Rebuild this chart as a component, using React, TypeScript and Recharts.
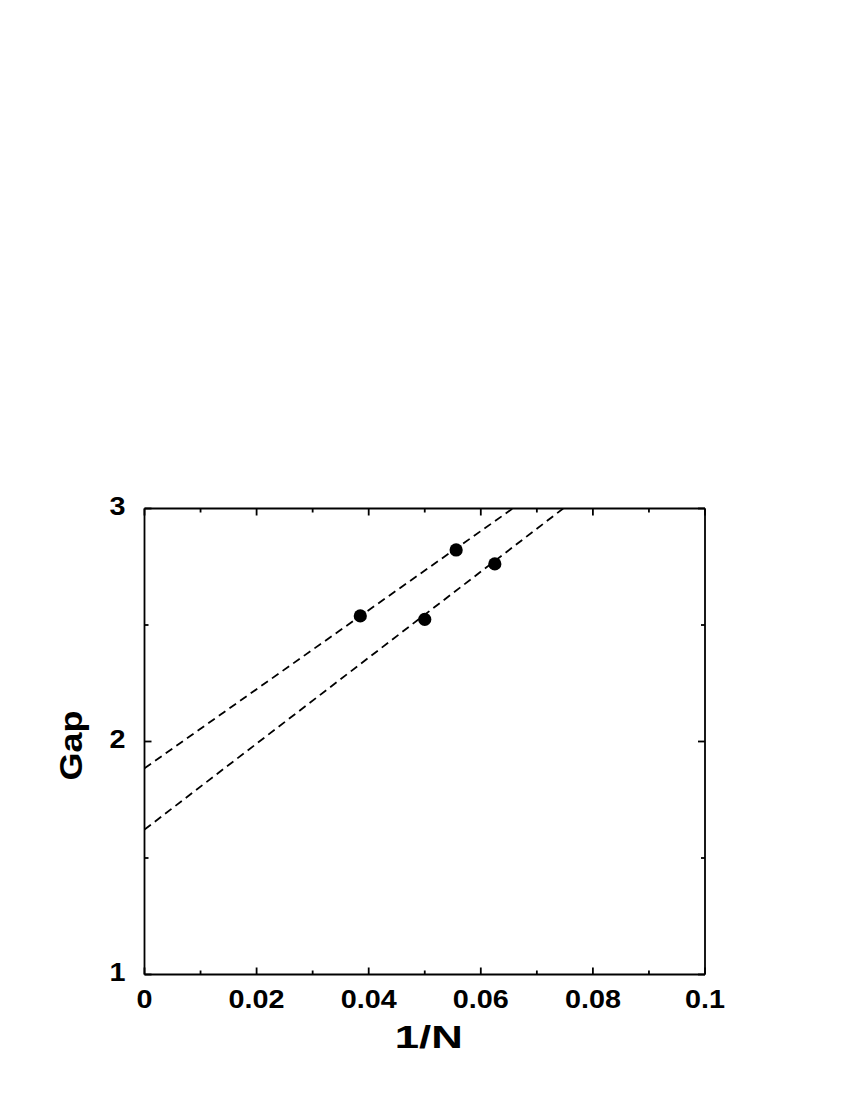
import { ScatterChart, Scatter, XAxis, YAxis } from "recharts";

// measured gaps (1/N vs Gap), two families
const upperInvN = [0.0385, 0.0556];
const upperGap = [2.539, 2.822];
const lowerInvN = [0.05, 0.0625];
const lowerGap = [2.524, 2.762];

// dashed linear extrapolations to 1/N = 0
const upperFitInvN = [0, 0.0657];
const upperFitGap = [1.885, 3];
const lowerFitInvN = [0, 0.0747];
const lowerFitGap = [1.622, 3];

const xTicks = [0, 0.01, 0.02, 0.03, 0.04, 0.05, 0.06, 0.07, 0.08, 0.09, 0.1];
const xMajor = [0, 0.02, 0.04, 0.06, 0.08, 0.1];
const xLabels = ["0", "0.02", "0.04", "0.06", "0.08", "0.1"];
const yTicks = [1, 1.5, 2, 2.5, 3];
const yMajor = [1, 2, 3];
const yLabels = ["1", "2", "3"];

const zip = (xs: number[], ys: number[]) => xs.map((x, i) => ({ x, y: ys[i] }));

const FONT = "'Liberation Sans', Arial, Helvetica, sans-serif";
const MAJOR = 7;
const MINOR = 4;
const LW = 1.8;

const idxOf = (arr: number[], v: number) => arr.findIndex((m) => Math.abs(m - v) < 1e-9);

// labels are a bit wider than plain Helvetica bold, so stretch horizontally
const Stretch = ({ x, y, anchor, children, size = 25, sx = 1.15 }: any) => (
  <text
    x={0}
    y={0}
    transform={`translate(${x} ${y}) scale(${sx} 1)`}
    textAnchor={anchor}
    fontSize={size}
    fontWeight="bold"
    fontFamily={FONT}
    fill="#000"
  >
    {children}
  </text>
);

function BottomTick({ x, y, payload }: any) {
  const i = idxOf(xMajor, payload.value);
  const len = i >= 0 ? MAJOR : MINOR;
  return (
    <g>
      <line x1={x} x2={x} y1={y} y2={y - len} stroke="#000" strokeWidth={LW} />
      {i >= 0 && (
        <Stretch x={x} y={y + 33.5} anchor="middle">
          {xLabels[i]}
        </Stretch>
      )}
    </g>
  );
}

function TopTick({ x, y, payload }: any) {
  const len = idxOf(xMajor, payload.value) >= 0 ? MAJOR : MINOR;
  return <line x1={x} x2={x} y1={y} y2={y + len} stroke="#000" strokeWidth={LW} />;
}

function LeftTick({ x, y, payload }: any) {
  const i = idxOf(yMajor, payload.value);
  const len = i >= 0 ? MAJOR : MINOR;
  return (
    <g>
      <line x1={x} x2={x + len} y1={y} y2={y} stroke="#000" strokeWidth={LW} />
      {i >= 0 && (
        <Stretch x={x - 19} y={y + 6} anchor="end">
          {yLabels[i]}
        </Stretch>
      )}
    </g>
  );
}

function RightTick({ x, y, payload }: any) {
  const len = idxOf(yMajor, payload.value) >= 0 ? MAJOR : MINOR;
  return <line x1={x} x2={x - len} y1={y} y2={y} stroke="#000" strokeWidth={LW} />;
}

const Dot = ({ cx, cy }: any) => <circle cx={cx} cy={cy} r={6.6} fill="#000" />;
const NoDot = () => <g />;

export default function App() {
  const dash = { stroke: "#000", strokeWidth: 1.8, strokeDasharray: "8 5" };
  const frame = { stroke: "#000", strokeWidth: LW };
  return (
    <div style={{ width: 800, height: 1090 }}>
      <ScatterChart width={800} height={1090} margin={{ top: 499.5, right: 102, bottom: 43.5, left: 46.5 }}>
        <XAxis
          xAxisId="b"
          type="number"
          dataKey="x"
          domain={[0, 0.1]}
          ticks={xTicks}
          allowDataOverflow
          height={80}
          tickSize={0}
          tickMargin={0}
          tick={BottomTick}
          axisLine={frame}
          tickLine={false}
          label={{
            content: ({ viewBox }: any) => (
              <text
                x={viewBox.x + viewBox.width / 2 + 4}
                y={viewBox.y + 73.5}
                textAnchor="middle"
                fontSize={32}
                fontWeight="bold"
                fontFamily={FONT}
                fill="#000"
                textLength={68}
                lengthAdjust="spacingAndGlyphs"
              >
                1/N
              </text>
            ),
          }}
        />
        <XAxis
          xAxisId="t"
          orientation="top"
          type="number"
          dataKey="x"
          domain={[0, 0.1]}
          ticks={xTicks}
          allowDataOverflow
          height={1}
          tickSize={0}
          tickMargin={0}
          tick={TopTick}
          axisLine={frame}
          tickLine={false}
        />
        <YAxis
          yAxisId="l"
          type="number"
          dataKey="y"
          domain={[1, 3]}
          ticks={yTicks}
          allowDataOverflow
          width={90}
          tickSize={0}
          tickMargin={0}
          tick={LeftTick}
          axisLine={frame}
          tickLine={false}
          label={{
            content: ({ viewBox }: any) => {
              const cx = viewBox.x + viewBox.width - 63;
              const cy = viewBox.y + viewBox.height / 2 + 4;
              return (
                <text
                  x={cx}
                  y={cy}
                  transform={`rotate(-90 ${cx} ${cy})`}
                  textAnchor="middle"
                  fontSize={32}
                  fontWeight="bold"
                  fontFamily={FONT}
                  fill="#000"
                  textLength={70}
                  lengthAdjust="spacingAndGlyphs"
                >
                  Gap
                </text>
              );
            },
          }}
        />
        <YAxis
          yAxisId="r"
          orientation="right"
          type="number"
          dataKey="y"
          domain={[1, 3]}
          ticks={yTicks}
          allowDataOverflow
          width={1}
          tickSize={0}
          tickMargin={0}
          tick={RightTick}
          axisLine={frame}
          tickLine={false}
        />
        <Scatter xAxisId="t" yAxisId="r" data={zip(upperFitInvN, upperFitGap)} line={dash} shape={NoDot} isAnimationActive={false} />
        <Scatter xAxisId="b" yAxisId="l" data={zip(lowerFitInvN, lowerFitGap)} line={dash} shape={NoDot} isAnimationActive={false} />
        <Scatter xAxisId="b" yAxisId="l" data={zip(upperInvN, upperGap)} shape={Dot} isAnimationActive={false} />
        <Scatter xAxisId="b" yAxisId="l" data={zip(lowerInvN, lowerGap)} shape={Dot} isAnimationActive={false} />
      </ScatterChart>
    </div>
  );
}
